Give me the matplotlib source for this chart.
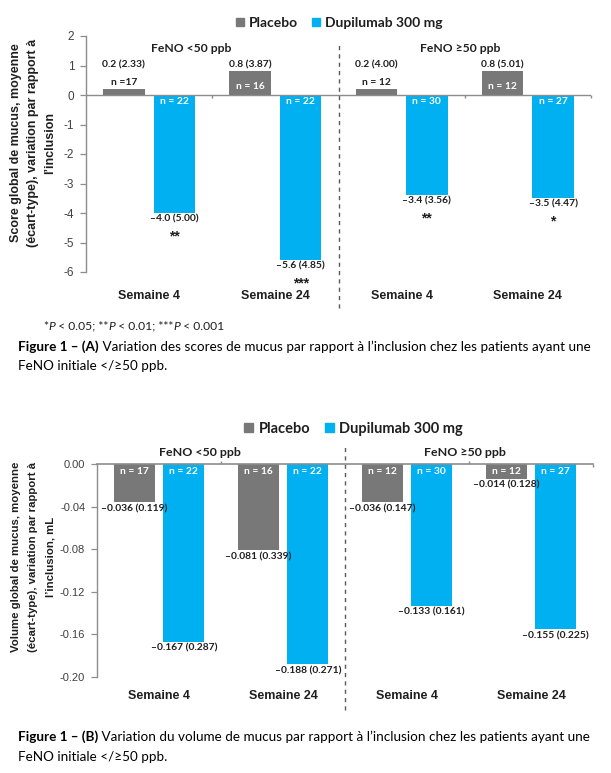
import matplotlib
matplotlib.use('Agg')
import matplotlib.pyplot as plt
from matplotlib.patches import Patch
import numpy as np

plt.rcParams['axes.unicode_minus'] = False

# ---------------- data ----------------
weeks = ['Semaine 4', 'Semaine 24', 'Semaine 4', 'Semaine 24']
groups = ['FeNO <50 ppb', 'FeNO ≥50 ppb']
series = ['Placebo', 'Dupilumab 300 mg']

# Panel A : mucus score
a_pbo = [0.2, 0.8, 0.2, 0.8]
a_pbo_sd = [2.33, 3.87, 4.00, 5.01]
a_pbo_n = ['n =17', 'n = 16', 'n = 12', 'n = 12']
a_dup = [-4.0, -5.6, -3.4, -3.5]
a_dup_sd = [5.00, 4.85, 3.56, 4.47]
a_dup_n = ['n = 22', 'n = 22', 'n = 30', 'n = 27']
a_sig = ['**', '***', '**', '*']
a_yticks = [2, 1, 0, -1, -2, -3, -4, -5, -6]

# Panel B : mucus volume (mL)
b_pbo = [-0.036, -0.081, -0.036, -0.014]
b_pbo_sd = [0.119, 0.339, 0.147, 0.128]
b_pbo_n = ['n = 17', 'n = 16', 'n = 12', 'n = 12']
b_dup = [-0.167, -0.188, -0.133, -0.155]
b_dup_sd = [0.287, 0.271, 0.161, 0.225]
b_dup_n = ['n = 22', 'n = 22', 'n = 30', 'n = 27']
b_yticks = [0.00, -0.04, -0.08, -0.12, -0.16, -0.20]

# ---------------- style ----------------
PBO = '#787878'
DUP = '#00B0F0'
AX = '#8c8c8c'
TXT = '#1f1f1f'
CAL = ['Lato', 'DejaVu Sans']
ARI = ['Liberation Sans', 'DejaVu Sans']
VSZ = 7.4

W, H = 611, 773
fig = plt.figure(figsize=(W / 100, H / 100), dpi=100)


def fx(px):
    return px / W


def fy(py):
    return 1 - py / H


def rich(x_px, y_px, pieces, size, family, color='black'):
    renderer = fig.canvas.get_renderer()
    x = x_px
    for s, kw in pieces:
        t = fig.text(fx(x), fy(y_px), s, va='center', ha='left',
                     fontsize=size, family=family, color=color, **kw)
        x += t.get_window_extent(renderer).width


def fmt(v, nd):
    return f"{v:.{nd}f}".replace('-', '–')


x = np.arange(len(weeks))
off, bw = 0.2, 0.33


def base_axes(rect, ylim, yticks, ylabels, tsize):
    ax = fig.add_axes(rect)
    ax.set_xlim(-0.5, 3.5)
    ax.set_ylim(*ylim)
    for s in ['top', 'right', 'bottom']:
        ax.spines[s].set_visible(False)
    ax.spines['left'].set_color(AX)
    ax.spines['left'].set_linewidth(1)
    ax.set_yticks(yticks)
    ax.set_yticklabels(ylabels, family=ARI, fontsize=tsize, color='#404040')
    ax.tick_params(axis='y', length=4.5, width=0.9, color=AX, pad=4)
    ax.set_xticks(x)
    return ax


def ylab(xc, yc, lines, size):
    # stacked rotated lines, one text per line, evenly spaced
    step = 17
    n = len(lines)
    for k, s in enumerate(lines):
        fig.text(fx(xc + (k - (n - 1) / 2) * step), fy(yc), s, rotation=90,
                 ha='center', va='center', family=ARI, fontsize=size,
                 fontweight='bold', color=TXT)


# ================= Panel A =================
axA = base_axes([fx(86), fy(272), fx(591) - fx(86), (272 - 36) / H], (-6, 2),
                a_yticks, [str(t) for t in a_yticks], 8.5)
axA.set_xticklabels(weeks, family=ARI, fontsize=9, fontweight='bold', color=TXT)
axA.tick_params(axis='x', length=0, pad=13)
axA.bar(x - off, a_pbo, bw, color=PBO, label=series[0], zorder=2)
axA.bar(x + off, a_dup, bw, color=DUP, label=series[1], zorder=2)
axA.axhline(0, color=AX, lw=1, zorder=3)
axA.vlines([0.5, 2.5, 3.5], 0, -0.1, color=AX, lw=1, clip_on=False)
axA.axvline(1.5, ymin=-0.153, ymax=0.962, clip_on=False, color='#595959',
            lw=1, ls=(0, (3, 3)))

for i in range(4):
    inside = a_pbo[i] > 0.5
    if inside:
        axA.annotate(a_pbo_n[i], (x[i] - off, a_pbo[i]), xytext=(0, -15),
                     textcoords='offset pixels', ha='center', va='center',
                     family=CAL, fontsize=VSZ, fontweight='bold', color='white')
        axA.annotate(f"{fmt(a_pbo[i], 1)} ({a_pbo_sd[i]:.2f})", (x[i] - off, a_pbo[i]),
                     xytext=(0, 6), textcoords='offset pixels', ha='center',
                     va='center', family=CAL, fontsize=VSZ, fontweight='bold', color=TXT)
    else:
        axA.annotate(a_pbo_n[i], (x[i] - off, a_pbo[i]), xytext=(0, 7),
                     textcoords='offset pixels', ha='center', va='center',
                     family=CAL, fontsize=VSZ, fontweight='bold', color=TXT)
        axA.annotate(f"{fmt(a_pbo[i], 1)} ({a_pbo_sd[i]:.2f})", (x[i] - off, a_pbo[i]),
                     xytext=(0, 24), textcoords='offset pixels', ha='center',
                     va='center', family=CAL, fontsize=VSZ, fontweight='bold', color=TXT)
    axA.annotate(a_dup_n[i], (x[i] + off, 0), xytext=(0, -6),
                 textcoords='offset pixels', ha='center', va='center',
                 family=CAL, fontsize=VSZ, fontweight='bold', color='white')
    axA.annotate(f"{fmt(a_dup[i], 1)} ({a_dup_sd[i]:.2f})", (x[i] + off, a_dup[i]),
                 xytext=(0, -1), textcoords='offset pixels', ha='center', va='top',
                 family=CAL, fontsize=VSZ, fontweight='bold', color=TXT,
                 annotation_clip=False)
    axA.annotate(a_sig[i], (x[i] + off, a_dup[i]), xytext=(0, -23),
                 textcoords='offset pixels', ha='center', va='center',
                 family=ARI, fontsize=10, fontweight='bold', color=TXT,
                 annotation_clip=False)

fig.text(fx(191), fy(48), groups[0], ha='center', va='center', family=CAL,
         fontsize=8.7, fontweight='bold', color=TXT)
fig.text(fx(460), fy(48), groups[1], ha='center', va='center', family=CAL,
         fontsize=8.7, fontweight='bold', color=TXT)
ylab(33, 143, ["Score global de mucus, moyenne",
               "(écart-type), variation par rapport à",
               "l’inclusion"], 9)

legA = fig.legend(handles=[Patch(color=PBO, label=series[0]), Patch(color=DUP, label=series[1])],
                  loc='center left', bbox_to_anchor=(fx(236), fy(23)), ncol=2,
                  frameon=False, handlelength=0.55, handleheight=0.55,
                  handletextpad=0.4, columnspacing=1.0, borderpad=0, borderaxespad=0,
                  prop={'family': CAL, 'weight': 'bold', 'size': 10})
for t in legA.get_texts():
    t.set_color(TXT)

rich(43, 326, [("*", {}), ("P", {'style': 'italic'}), (" < 0.05; **", {}),
               ("P", {'style': 'italic'}), (" < 0.01; ***", {}),
               ("P", {'style': 'italic'}), (" < 0.001", {})], 8.7, CAL, TXT)
rich(18, 347, [("Figure 1 – (A)", {'weight': 'bold'}),
               (" Variation des scores de mucus par rapport à l’inclusion chez les patients ayant une", {})],
     9.75, CAL)
rich(18, 366, [("FeNO initiale </≥50 ppb.", {})], 9.75, CAL)

# ================= Panel B =================
axB = base_axes([fx(97), fy(677), fx(593) - fx(97), (677 - 464) / H], (-0.2, 0),
                b_yticks, [f"{t:.2f}" for t in b_yticks], 8)
axB.set_xticklabels(weeks, family=ARI, fontsize=9, fontweight='bold', color=TXT)
axB.tick_params(axis='x', length=0, pad=9.5)
axB.bar(x - off, b_pbo, bw, color=PBO, label=series[0], zorder=2)
axB.bar(x + off, b_dup, bw, color=DUP, label=series[1], zorder=2)
axB.axhline(0, color=AX, lw=1.2, zorder=3, clip_on=False)
axB.vlines([0.5, 2.5], 0, 0.003, color=AX, lw=1, clip_on=False)
axB.vlines([3.5], 0, -0.003, color=AX, lw=1, clip_on=False)
axB.axvline(1.5, ymin=-0.155, ymax=1.08, clip_on=False, color='#595959',
            lw=1, ls=(0, (3, 3)))

for i in range(4):
    for xs, vals, sds, ns in [(x[i] - off, b_pbo, b_pbo_sd, b_pbo_n),
                              (x[i] + off, b_dup, b_dup_sd, b_dup_n)]:
        axB.annotate(ns[i], (xs, 0), xytext=(0, -8), textcoords='offset pixels',
                     ha='center', va='center', family=CAL, fontsize=VSZ,
                     fontweight='bold', color='white')
        axB.annotate(f"{fmt(vals[i], 3)} ({sds[i]:.3f})", (xs, vals[i]),
                     xytext=(0, -2), textcoords='offset pixels', ha='center',
                     va='top', family=CAL, fontsize=VSZ, fontweight='bold',
                     color=TXT, annotation_clip=False)

fig.text(fx(200), fy(453), groups[0], ha='center', va='center', family=CAL,
         fontsize=8.9, fontweight='bold', color=TXT)
fig.text(fx(465), fy(453), groups[1], ha='center', va='center', family=CAL,
         fontsize=8.9, fontweight='bold', color=TXT)
ylab(33, 557, ["Volume global de mucus, moyenne",
               "(écart-type), variation par rapport à",
               "l’inclusion, mL"], 8.2)

legB = fig.legend(handles=[Patch(color=PBO, label=series[0]), Patch(color=DUP, label=series[1])],
                  loc='center left', bbox_to_anchor=(fx(244), fy(429)), ncol=2,
                  frameon=False, handlelength=0.6, handleheight=0.6,
                  handletextpad=0.4, columnspacing=1.0, borderpad=0, borderaxespad=0,
                  prop={'family': CAL, 'weight': 'bold', 'size': 10.5})
for t in legB.get_texts():
    t.set_color(TXT)

rich(18, 737, [("Figure 1 – (B)", {'weight': 'bold'}),
               (" Variation du volume de mucus par rapport à l’inclusion chez les patients ayant une", {})],
     9.75, CAL)
rich(18, 757, [("FeNO initiale </≥50 ppb.", {})], 9.75, CAL)

fig.savefig('out.png', dpi=100)
